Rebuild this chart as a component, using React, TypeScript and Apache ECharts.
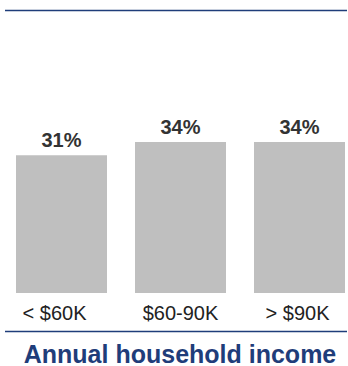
import React, { useEffect, useRef } from "react";
import * as echarts from "echarts";

const categories = ["< $60K", "$60-90K", "> $90K"];
const values = [31, 34, 34];
const axisTitle = "Annual household income";

export default function App() {
  const ref = useRef<HTMLDivElement>(null);
  useEffect(() => {
    if (!ref.current) return;
    const chart = echarts.init(ref.current, undefined, { renderer: "svg" });
    const labelPads = [[0, 14, 0, 0], [0, 0, 0, 0], [0, 4, 0, 0]];
    chart.setOption({
      animation: false,
      grid: { left: 61.5, right: 48.5, top: 71, bottom: 73 },
      xAxis: {
        type: "category",
        data: categories.map((c, i) => ({ value: c, textStyle: { padding: labelPads[i] } })),
        boundaryGap: false,
        axisLine: { show: false },
        axisTick: { show: false },
        axisLabel: {
          margin: 10,
          fontSize: 20,
          color: "#222",
          fontFamily: "Liberation Sans, Arial, sans-serif",
        },
      },
      yAxis: { type: "value", min: 0, max: 50, show: false },
      graphic: [
        { type: "line", shape: { x1: 5, y1: 10.5, x2: 347, y2: 10.5 }, style: { stroke: "#1f3d7a", lineWidth: 1.5 } },
        { type: "line", shape: { x1: 5, y1: 331.5, x2: 347, y2: 331.5 }, style: { stroke: "#1f3d7a", lineWidth: 1.5 } },
        {
          type: "text",
          x: 180,
          y: 353.5,
          style: {
            text: axisTitle,
            align: "center",
            verticalAlign: "middle",
            fontFamily: "Liberation Sans, Arial, sans-serif",
            fontSize: 25,
            fontWeight: "bold",
            fill: "#1f3d7a",
          },
        },
      ],
      series: [
        {
          type: "bar",
          data: values,
          barWidth: 91,
          itemStyle: { color: "#bfbfbf" },
          label: {
            show: true,
            position: "top",
            distance: 5,
            formatter: "{c}%",
            fontSize: 20,
            fontWeight: "bold",
            color: "#333",
            fontFamily: "Liberation Sans, Arial, sans-serif",
          },
        },
      ],
    });
    return () => chart.dispose();
  }, []);
  return <div ref={ref} style={{ width: 348, height: 366, position: "absolute", left: 0, top: 0 }} />;
}
